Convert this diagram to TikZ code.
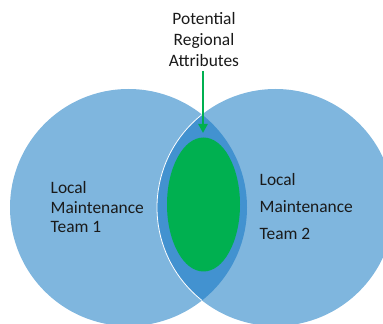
\documentclass[tikz,border=0pt]{standalone}
\usepackage{fontspec}
\setmainfont{Carlito}
\usetikzlibrary{arrows.meta}
\definecolor{lightblue}{HTML}{7FB6DE}
\definecolor{lensblue}{HTML}{4292D0}
\definecolor{attrgreen}{HTML}{00B050}
\definecolor{txt}{HTML}{1A1A1A}
\tikzset{
  lbl/.style={inner sep=0pt, text=txt, font=\fontsize{17.4}{19.5}\selectfont},
}
\begin{document}
\begin{tikzpicture}[x=1pt,y=1pt]
\useasboundingbox (0,0) rectangle (383,324);
\clip (0,0) rectangle (383,324);
\coordinate (c1) at (128.5,116.5);
\coordinate (c2) at (275.5,116.5);
\fill[lightblue] (c1) circle[radius=118.5];
\fill[lightblue] (c2) circle[radius=118.5];
\begin{scope}
  \clip (c1) circle[radius=118.5];
  \fill[lensblue] (c2) circle[radius=118.5];
  \draw[white, line width=0.8pt] (c2) circle[radius=118.5];
\end{scope}
\fill[attrgreen] (203.5,119.5) ellipse[x radius=36.5, y radius=67];
\node[lbl, align=center, font=\fontsize{17.4}{21}\selectfont] (attr) at (204,284.5) {Potential\\Regional\\Attributes};
\coordinate (tip) at (203,191);
\draw[attrgreen, line width=2.7pt, -{Triangle[width=9pt,length=9pt]}] (203,253) -- (tip);
\node[lbl, align=left, anchor=west] (team1) at (50.5,116.5) {Local\\Maintenance\\Team 1};
\node[lbl, align=left, anchor=west, font=\fontsize{17.4}{27}\selectfont] (team2) at (259.5,117) {Local\\Maintenance\\Team 2};
\end{tikzpicture}
\end{document}
